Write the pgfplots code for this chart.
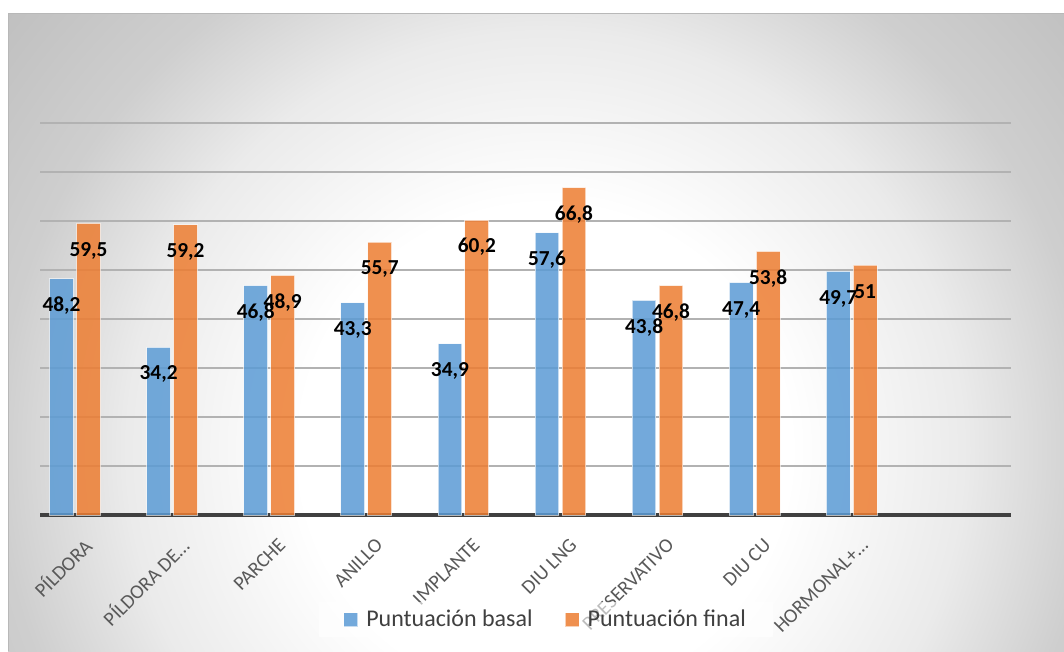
\documentclass[border=0pt]{standalone}
\usepackage{pgfplots}
\pgfplotsset{compat=1.18}
\usepackage{fontspec}
\setmainfont{Carlito}

\definecolor{serieA}{HTML}{5B9BD5}
\definecolor{serieB}{HTML}{ED7D31}
\definecolor{lbl}{HTML}{595959}
\definecolor{leg}{HTML}{404040}
\definecolor{base}{HTML}{404040}

% soft radial background of the chart area
\pgfdeclareradialshading{chartbg}{\pgfpoint{0bp}{0bp}}{%
  color(0bp)=(white); color(8.75bp)=(white); color(15bp)=(black!8);
  color(19.5bp)=(black!19); color(25bp)=(black!25); color(50bp)=(black!25)}

\begin{document}
\begin{tikzpicture}[x=1pt,y=1pt]
\useasboundingbox (0,0) rectangle (798,488.25);
\fill[white] (0,0) rectangle (798,488.25);
\begin{scope}
  \clip (6,0) rectangle (798,477.75);
  \shade[shading=chartbg] (408.75,150.75) circle[radius=525pt];
\end{scope}
\draw[black!28, line width=0.75pt] (6,0) -- (6,477.75) -- (798,477.75);

\begin{axis}[
  at={(30pt,102pt)}, anchor=south west,
  scale only axis, width=728.25pt, height=294pt,
  xmin=-0.3605, xmax=9.64, ymin=0, ymax=80,
  ybar=2.4pt, bar width=17.8pt,
  xtick={0,...,8},
  xticklabels={PÍLDORA, PÍLDORA DE…, PARCHE, ANILLO, IMPLANTE, DIU LNG, PRESERVATIVO, DIU CU, HORMONAL+…},
  xticklabel style={rotate=45, anchor=east, inner sep=0pt, text=lbl,
    font=\fontsize{15}{18}\selectfont, xshift=-7.3pt, yshift=-21.1pt},
  ytick={10,20,...,80}, yticklabel={\mbox{}},
  ymajorgrids, major grid style={black!30, line width=1pt},
  extra y ticks={0}, extra y tick labels={},
  extra y tick style={grid=major, major grid style={base, line width=3pt}},
  axis line style={draw=none},
  major tick length=0pt,
  /pgf/number format/.cd, use comma, 1000 sep={}, assume math mode=true,
  /pgfplots/.cd,
  nodes near coords,
  every node near coord/.append style={anchor=center, yshift=-20.25pt,
    text=black, text opacity=1, font=\fontsize{16}{18}\selectfont\bfseries},
  legend columns=2,
  legend style={at={(0.521,-0.2666)}, anchor=center, draw=none,
    fill=white, fill opacity=0.6, text opacity=1, text=leg,
    font=\fontsize{18}{21}\selectfont, inner xsep=18pt, inner ysep=4pt,
    /tikz/column sep=4pt,
    /tikz/every even column/.append style={column sep=22pt}},
  legend image code/.code={\fill[#1] (0pt,-5.25pt) rectangle (10.5pt,5.25pt);},
]
\addplot[fill=serieA, fill opacity=0.85, draw=white, draw opacity=0.6, line width=0.75pt]
  coordinates {(0,48.2) (1,34.2) (2,46.8) (3,43.3) (4,34.9) (5,57.6) (6,43.8) (7,47.4) (8,49.7)};
\addplot[fill=serieB, fill opacity=0.85, draw=white, draw opacity=0.6, line width=0.75pt]
  coordinates {(0,59.5) (1,59.2) (2,48.9) (3,55.7) (4,60.2) (5,66.8) (6,46.8) (7,53.8) (8,51)};
\legend{Puntuación basal, Puntuación final}
\end{axis}
\end{tikzpicture}
\end{document}
